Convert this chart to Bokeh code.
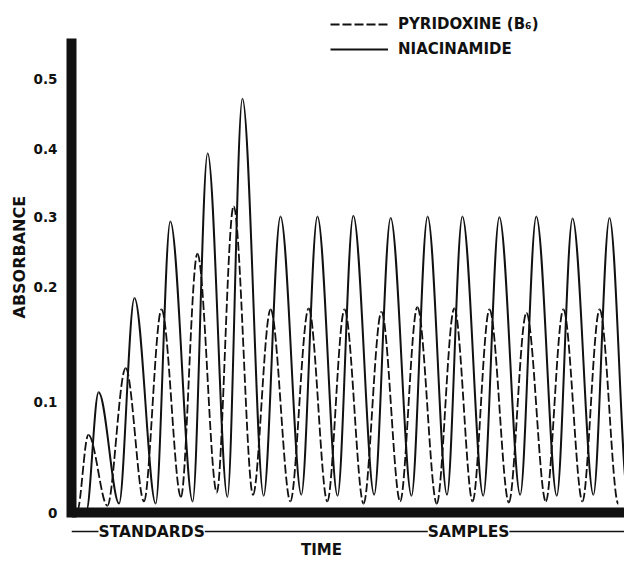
import numpy as np
from bokeh.plotting import figure
from bokeh.models import (Range1d, FixedTicker, Label, Span, Legend, LegendItem, Title,
                          ColumnDataSource)
from bokeh.embed import file_html
from bokeh.resources import INLINE

# ---------------- data ----------------
# printed absorbance scale of the chart (non-linear: 0-0.2 stretched)
absorbance_ticks = [0.0, 0.1, 0.2, 0.3, 0.4, 0.5]
tick_labels = ["0", "0.1", "0.2", "0.3", "0.4", "0.5"]

# time in sample intervals from the left axis
pyridoxine_peak_t = [0.46, 1.48, 2.46, 3.44, 4.43, 5.44, 6.48, 7.46, 8.47, 9.45,
                     10.46, 11.42, 12.43, 13.44, 14.43]
pyridoxine_peak_a = [0.070, 0.129, 0.180, 0.247, 0.315, 0.180, 0.181, 0.180, 0.178,
                     0.182, 0.181, 0.180, 0.177, 0.180, 0.180]
pyridoxine_valley_t = [0.16, 0.98, 1.98, 2.99, 3.97, 4.96, 5.98, 6.99, 7.98, 8.98,
                       9.98, 10.96, 11.95, 12.96, 13.96, 14.94]
pyridoxine_valley_a = [0.002, 0.006, 0.010, 0.014, 0.018, 0.016, 0.010, 0.010, 0.008,
                       0.010, 0.008, 0.010, 0.009, 0.010, 0.010, 0.008]

niacinamide_peak_t = [0.74, 1.72, 2.70, 3.72, 4.67, 5.71, 6.72, 7.70, 8.72, 9.73,
                      10.68, 11.69, 12.70, 13.69, 14.70]
niacinamide_peak_a = [0.108, 0.190, 0.293, 0.393, 0.471, 0.300, 0.300, 0.301, 0.298,
                      0.300, 0.300, 0.299, 0.300, 0.297, 0.298]
niacinamide_valley_t = [0.41, 1.30, 2.30, 3.31, 4.26, 5.25, 6.28, 7.27, 8.27, 9.29,
                        10.26, 11.25, 12.26, 13.26, 14.26, 15.20]
niacinamide_valley_a = [0.002, 0.008, 0.008, 0.010, 0.014, 0.015, 0.016, 0.015, 0.016,
                        0.015, 0.016, 0.015, 0.016, 0.015, 0.016, 0.015]

# time-axis phase labels (centre, in sample intervals)
phase_labels = ["STANDARDS", "SAMPLES"]
phase_centers = [2.19, 10.85]

# ---------------- chart's printed scale ----------------
TICK_POS = [0, 111, 226, 296, 364, 434]   # printed position of each absorbance tick


def to_scale(a):
    return np.interp(np.asarray(a, dtype=float), absorbance_ticks, TICK_POS)


def peak_source(pt, pa, vt, va, k1=0.32, k2=0.35):
    py, vy = to_scale(pa), to_scale(va)
    d = dict(x0=[], y0=[], x1=[], y1=[], cx0=[], cy0=[], cx1=[], cy1=[])
    for i in range(len(pt)):
        xl, yl, xp, yp = vt[i], vy[i], pt[i], py[i]
        xr, yr = vt[i + 1], vy[i + 1]
        for (a0, b0, a1, b1, c0x, c0y, c1x, c1y) in (
            (xl, yl, xp, yp, xl + k1 * (xp - xl), yl, xp - k2 * (xp - xl), yp),
            (xp, yp, xr, yr, xp + k2 * (xr - xp), yp, xr - k1 * (xr - xp), yr),
        ):
            d["x0"].append(a0); d["y0"].append(b0); d["x1"].append(a1); d["y1"].append(b1)
            d["cx0"].append(c0x); d["cy0"].append(c0y); d["cx1"].append(c1x); d["cy1"].append(c1y)
    return ColumnDataSource(d)


FONT = "DejaVu Sans"
INK = "#111111"

p = figure(width=624, height=562, output_backend="svg", toolbar_location=None,
           x_range=Range1d(0, 15.11), y_range=Range1d(-50, 502),
           min_border_left=71, min_border_right=0, min_border_top=10, min_border_bottom=0)
p.outline_line_color = None
p.xgrid.visible = False
p.ygrid.visible = False
p.xaxis.visible = False
p.background_fill_color = "white"
p.border_fill_color = "white"

pyr = peak_source(pyridoxine_peak_t, pyridoxine_peak_a, pyridoxine_valley_t, pyridoxine_valley_a)
nia = peak_source(niacinamide_peak_t, niacinamide_peak_a, niacinamide_valley_t, niacinamide_valley_a)
r_pyr = p.bezier(x0="x0", y0="y0", x1="x1", y1="y1", cx0="cx0", cy0="cy0", cx1="cx1", cy1="cy1",
                 source=pyr, line_color=INK, line_width=1.8, line_dash="9 3")
r_nia = p.bezier(x0="x0", y0="y0", x1="x1", y1="y1", cx0="cx0", cy0="cy0", cx1="cx1", cy1="cy1",
                 source=nia, line_color=INK, line_width=2.0)

# heavy baseline (absorbance 0) and the time row rule
p.add_layout(Span(location=0, dimension="width", line_color=INK, line_width=10))
p.add_layout(Span(location=-19, dimension="width", line_color=INK, line_width=1.5))

# y axis: heavy bar with the chart's printed ticks
ya = p.yaxis[0]
ya.ticker = FixedTicker(ticks=TICK_POS)
ya.major_label_overrides = {t: s for t, s in zip(TICK_POS, tick_labels)}
ya.axis_line_width = 10
ya.axis_line_color = INK
ya.bounds = (-5, 474)
ya.major_tick_line_color = None
ya.minor_tick_line_color = None
ya.major_tick_out = 0
ya.major_label_standoff = 14
ya.major_label_text_font = FONT
ya.major_label_text_font_style = "bold"
ya.major_label_text_font_size = "13.5px"
ya.major_label_text_color = INK

p.add_layout(Title(text="ABSORBANCE", align="left", offset=244, standoff=4,
                   text_font=FONT, text_font_style="bold", text_font_size="16px",
                   text_color=INK), "left")

# phase labels on the time rule, and the time title
for cx, txt in zip(phase_centers, phase_labels):
    p.add_layout(Label(x=cx, y=-19, text=txt, text_align="center", text_baseline="middle",
                       text_font=FONT, text_font_style="bold", text_font_size="15.5px",
                       text_color=INK, background_fill_color="white"))
p.add_layout(Label(x=6.83, y=-37, text="TIME", text_align="center", text_baseline="middle",
                   text_font=FONT, text_font_style="bold", text_font_size="15px",
                   text_color=INK))

# legend
legend = Legend(items=[LegendItem(label="PYRIDOXINE (B\u2086)", renderers=[r_pyr]),
                       LegendItem(label="NIACINAMIDE", renderers=[r_nia])],
                location=(259, 504), padding=0, margin=0, spacing=7,
                glyph_width=58, glyph_height=18, label_height=18, label_standoff=10,
                border_line_color=None, background_fill_alpha=0,
                label_text_font=FONT, label_text_font_style="bold",
                label_text_font_size="15px", label_text_color=INK)
p.add_layout(legend)

open("out.html", "w").write(file_html(p, INLINE))
